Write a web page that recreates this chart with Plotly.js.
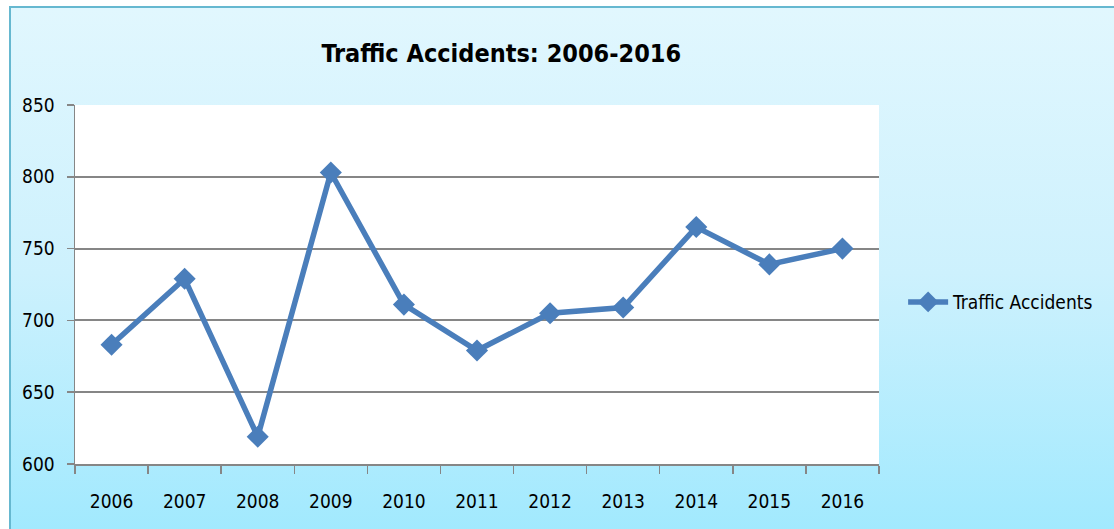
<!DOCTYPE html>
<html>
<head>
<meta charset="utf-8">
<script src="https://cdn.plot.ly/plotly-3.0.1.min.js"></script>
<style>
  html, body { margin: 0; padding: 0; background: #ffffff; }
  #wrap { position: relative; width: 1114px; height: 529px; overflow: hidden; }
  #bg { position: absolute; left: 9px; top: 6px; width: 1110px; height: 530px;
        border-top: 2px solid #66b8d0; border-left: 2px solid #66b8d0;
        background: linear-gradient(to bottom, #e1f7fe 0%, #cdf1fd 50%, #a0e9fe 100%); }
  #chart { position: absolute; left: 0; top: 0; width: 1114px; height: 529px; }
</style>
</head>
<body>
<div id="wrap">
  <div id="bg"></div>
  <div id="chart"></div>
</div>
<script>
const years = ['2006','2007','2008','2009','2010','2011','2012','2013','2014','2015','2016'];
const accidents = [683, 729, 619, 803, 711, 679, 705, 709, 765, 739, 750];
const yTicks = [600, 650, 700, 750, 800, 850];

const FONT = '"DejaVu Sans Condensed", "Liberation Sans Narrow", sans-serif';

const trace = {
  x: years,
  y: accidents,
  type: 'scatter',
  mode: 'lines+markers',
  name: 'Traffic Accidents',
  line: { color: '#4a7ebb', width: 5.5 },
  marker: { symbol: 'diamond', size: 17, color: '#4a7ebb' }
};

const layout = {
  width: 1114,
  height: 529,
  paper_bgcolor: 'rgba(0,0,0,0)',
  plot_bgcolor: '#ffffff',
  margin: { l: 75, r: 235, t: 105, b: 65 },
  font: { family: FONT, size: 19, color: '#000000' },
  title: {
    text: '<b>Traffic Accidents: 2006-2016</b>',
    font: { family: FONT, size: 25, color: '#000000' },
    xref: 'container', x: 0.45, xanchor: 'center',
    yref: 'container', y: 0.9, yanchor: 'middle'
  },
  xaxis: {
    type: 'category',
    range: [-0.5, 10.5],
    showgrid: false,
    showline: true, linecolor: '#868686', linewidth: 1.5,
    ticks: 'outside', tickson: 'boundaries', ticklen: 8, tickcolor: '#868686', tickwidth: 1.5,
    ticklabelstandoff: 20,
    tickfont: { family: FONT, size: 19, color: '#000000' },
    zeroline: false
  },
  yaxis: {
    range: [600, 850],
    tickvals: yTicks,
    showgrid: true, gridcolor: '#868686', gridwidth: 2,
    showline: true, linecolor: '#868686', linewidth: 1.5,
    ticks: 'outside', ticklen: 7, tickcolor: '#868686', tickwidth: 1.5,
    ticklabelstandoff: 8,
    tickfont: { family: FONT, size: 19, color: '#000000' },
    zeroline: false
  },
  showlegend: true,
  legend: {
    x: 1.03, xanchor: 'left',
    y: 0.451, yanchor: 'middle',
    bgcolor: 'rgba(0,0,0,0)',
    font: { family: FONT, size: 19, color: '#000000' },
    itemwidth: 40
  }
};

Plotly.newPlot('chart', [trace], layout, { displayModeBar: false, staticPlot: true });
</script>
</body>
</html>
